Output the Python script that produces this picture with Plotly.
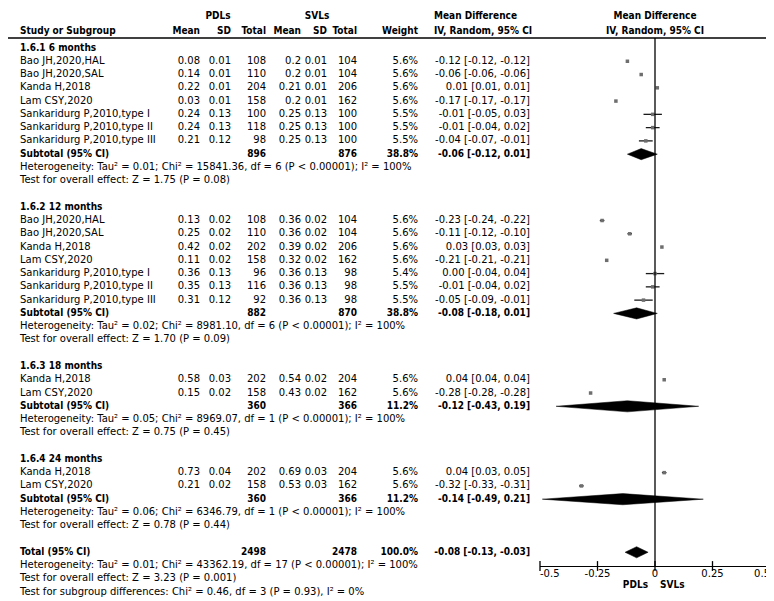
import plotly.graph_objects as go

FONT = "DejaVu Sans"
BFONT = "DejaVu Sans Condensed"

# ---------------- data ----------------
group_titles = ["1.6.1 6 months", "1.6.2 12 months", "1.6.3 18 months", "1.6.4 24 months"]
group_sizes = [7, 7, 2, 2]

study = [
    "Bao JH,2020,HAL", "Bao JH,2020,SAL", "Kanda H,2018", "Lam CSY,2020",
    "Sankaridurg P,2010,type I", "Sankaridurg P,2010,type II", "Sankaridurg P,2010,type III",
    "Bao JH,2020,HAL", "Bao JH,2020,SAL", "Kanda H,2018", "Lam CSY,2020",
    "Sankaridurg P,2010,type I", "Sankaridurg P,2010,type II", "Sankaridurg P,2010,type III",
    "Kanda H,2018", "Lam CSY,2020",
    "Kanda H,2018", "Lam CSY,2020",
]
pdl_mean = [0.08, 0.14, 0.22, 0.03, 0.24, 0.24, 0.21,
            0.13, 0.25, 0.42, 0.11, 0.36, 0.35, 0.31,
            0.58, 0.15,
            0.73, 0.21]
pdl_sd = [0.01, 0.01, 0.01, 0.01, 0.13, 0.13, 0.12,
          0.02, 0.02, 0.02, 0.02, 0.13, 0.13, 0.12,
          0.03, 0.02,
          0.04, 0.02]
pdl_n = [108, 110, 204, 158, 100, 118, 98,
         108, 110, 202, 158, 96, 116, 92,
         202, 158,
         202, 158]
svl_mean = [0.2, 0.2, 0.21, 0.2, 0.25, 0.25, 0.25,
            0.36, 0.36, 0.39, 0.32, 0.36, 0.36, 0.36,
            0.54, 0.43,
            0.69, 0.53]
svl_sd = [0.01, 0.01, 0.01, 0.01, 0.13, 0.13, 0.13,
          0.02, 0.02, 0.02, 0.02, 0.13, 0.13, 0.13,
          0.02, 0.02,
          0.03, 0.03]
svl_n = [104, 104, 206, 162, 100, 100, 100,
         104, 104, 206, 162, 98, 98, 98,
         204, 162,
         204, 162]
weight = [5.6, 5.6, 5.6, 5.6, 5.5, 5.5, 5.5,
          5.6, 5.6, 5.6, 5.6, 5.4, 5.5, 5.5,
          5.6, 5.6,
          5.6, 5.6]
md = [-0.12, -0.06, 0.01, -0.17, -0.01, -0.01, -0.04,
      -0.23, -0.11, 0.03, -0.21, 0.00, -0.01, -0.05,
      0.04, -0.28,
      0.04, -0.32]
ci_lo = [-0.12, -0.06, 0.01, -0.17, -0.05, -0.04, -0.07,
         -0.24, -0.12, 0.03, -0.21, -0.04, -0.04, -0.09,
         0.04, -0.28,
         0.03, -0.33]
ci_hi = [-0.12, -0.06, 0.01, -0.17, 0.03, 0.02, -0.01,
         -0.22, -0.10, 0.03, -0.21, 0.04, 0.02, -0.01,
         0.04, -0.28,
         0.05, -0.31]

sub_pdl_n = [896, 882, 360, 360]
sub_svl_n = [876, 870, 366, 366]
sub_weight = [38.8, 38.8, 11.2, 11.2]
sub_md = [-0.06, -0.08, -0.12, -0.14]
sub_lo = [-0.12, -0.18, -0.43, -0.49]
sub_hi = [0.01, 0.01, 0.19, 0.21]
sub_het = [
    "Heterogeneity: Tau² = 0.01; Chi² = 15841.36, df = 6 (P < 0.00001); I² = 100%",
    "Heterogeneity: Tau² = 0.02; Chi² = 8981.10, df = 6 (P < 0.00001); I² = 100%",
    "Heterogeneity: Tau² = 0.05; Chi² = 8969.07, df = 1 (P < 0.00001); I² = 100%",
    "Heterogeneity: Tau² = 0.06; Chi² = 6346.79, df = 1 (P < 0.00001); I² = 100%",
]
sub_test = [
    "Test for overall effect: Z = 1.75 (P = 0.08)",
    "Test for overall effect: Z = 1.70 (P = 0.09)",
    "Test for overall effect: Z = 0.75 (P = 0.45)",
    "Test for overall effect: Z = 0.78 (P = 0.44)",
]

total_pdl_n = 2498
total_svl_n = 2478
total_weight = 100.0
total_md, total_lo, total_hi = -0.08, -0.13, -0.03
total_het = "Heterogeneity: Tau² = 0.01; Chi² = 43362.19, df = 17 (P < 0.00001); I² = 100%"
total_test = "Test for overall effect: Z = 3.23 (P = 0.001)"
subgroup_test = "Test for subgroup differences: Chi² = 0.46, df = 3 (P = 0.93), I² = 0%"

tick_vals = [-0.5, -0.25, 0, 0.25, 0.5]
tick_text = ["-0.5", "-0.25", "0", "0.25", "0.5"]
favours = ["PDLs", "SVLs"]

# ---------------- layout constants ----------------
W, H = 774, 601
ROW0_PX, ROW_PX = 40.0, 13.27


def row_of(px):
    return (px - ROW0_PX) / ROW_PX


COL = dict(name=12, pm=192, ps=223, pn=258, sm=293, ss=319, sn=349, w=410, ci=522)
PDL_HDR_X, SVL_HDR_X = 210, 309
MD_HDR_LEFT = 426
AXIS_PX = 558
Y_H1, Y_H2 = row_of(8), row_of(23)
LINE_ROW = row_of(30)
AXIS_ROW = row_of(AXIS_PX)

entries = []


def put(x, y, t, pos, bold=False, ax="x2"):
    entries.append((ax, pos, bold, x, y, t))


def ci_text(m, lo, hi):
    return f"{m:.2f} [{lo:.2f}, {hi:.2f}]"


# headers
put(COL["name"], Y_H2, "Study or Subgroup", "middle right", True)
put(PDL_HDR_X, Y_H1, "PDLs", "middle center", True)
put(SVL_HDR_X, Y_H1, "SVLs", "middle center", True)
for key, lab in [("pm", "Mean"), ("ps", "SD"), ("pn", "Total"),
                 ("sm", "Mean"), ("ss", "SD"), ("sn", "Total"), ("w", "Weight")]:
    put(COL[key], Y_H2, lab, "middle left", True)
put(MD_HDR_LEFT, Y_H1, "Mean Difference", "middle right", True)
put(MD_HDR_LEFT, Y_H2, "IV, Random, 95% CI", "middle right", True)
put(0, Y_H1, "Mean Difference", "middle center", True, ax="x")
put(0, Y_H2, "IV, Random, 95% CI", "middle center", True, ax="x")

# body
r = 0
k = 0
study_rows = []
sub_rows = []
for g, n in enumerate(group_sizes):
    put(COL["name"], r, group_titles[g], "middle right", True)
    r += 1
    for _ in range(n):
        put(COL["name"], r, study[k], "middle right")
        put(COL["pm"], r, f"{pdl_mean[k]:g}", "middle left")
        put(COL["ps"], r, f"{pdl_sd[k]:g}", "middle left")
        put(COL["pn"], r, str(pdl_n[k]), "middle left")
        put(COL["sm"], r, f"{svl_mean[k]:g}", "middle left")
        put(COL["ss"], r, f"{svl_sd[k]:g}", "middle left")
        put(COL["sn"], r, str(svl_n[k]), "middle left")
        put(COL["w"], r, f"{weight[k]:.1f}%", "middle left")
        put(COL["ci"], r, ci_text(md[k], ci_lo[k], ci_hi[k]), "middle left")
        study_rows.append(r)
        r += 1
        k += 1
    put(COL["name"], r, "Subtotal (95% CI)", "middle right", True)
    put(COL["pn"], r, str(sub_pdl_n[g]), "middle left", True)
    put(COL["sn"], r, str(sub_svl_n[g]), "middle left", True)
    put(COL["w"], r, f"{sub_weight[g]:.1f}%", "middle left", True)
    put(COL["ci"], r, ci_text(sub_md[g], sub_lo[g], sub_hi[g]), "middle left", True)
    sub_rows.append(r)
    put(COL["name"], r + 1, sub_het[g], "middle right")
    put(COL["name"], r + 2, sub_test[g], "middle right")
    r += 4

total_row = r
put(COL["name"], r, "Total (95% CI)", "middle right", True)
put(COL["pn"], r, str(total_pdl_n), "middle left", True)
put(COL["sn"], r, str(total_svl_n), "middle left", True)
put(COL["w"], r, f"{total_weight:.1f}%", "middle left", True)
put(COL["ci"], r, ci_text(total_md, total_lo, total_hi), "middle left", True)
put(COL["name"], r + 1, total_het, "middle right")
put(COL["name"], r + 2, total_test, "middle right")
put(COL["name"], r + 3, subgroup_test, "middle right")

# favours labels
FAV_ROW = row_of(577)
put(640, FAV_ROW, favours[0], "middle left", True)
put(652, FAV_ROW, favours[1], "middle right", True)

fig = go.Figure()

# ---------------- forest marks ----------------
DH = 0.42
for m, lo, hi, rr in list(zip(sub_md, sub_lo, sub_hi, sub_rows)) + [(total_md, total_lo, total_hi, total_row)]:
    fig.add_trace(go.Scatter(
        x=[lo, m, hi, m, lo], y=[rr, rr - DH, rr, rr + DH, rr],
        mode="lines", fill="toself", fillcolor="black",
        line=dict(color="black", width=0.5), hoverinfo="skip",
        xaxis="x", yaxis="y", showlegend=False))

fig.add_trace(go.Scatter(
    x=md, y=study_rows, mode="markers",
    marker=dict(symbol="square", size=3.5, color="#6e6e6e"),
    error_x=dict(type="data", symmetric=False,
                 array=[h - m for h, m in zip(ci_hi, md)],
                 arrayminus=[m - l for m, l in zip(md, ci_lo)],
                 width=0, thickness=1.3, color="#1a1a1a"),
    xaxis="x", yaxis="y", showlegend=False, hoverinfo="skip"))

fig.add_trace(go.Scatter(
    x=tick_vals, y=[AXIS_ROW] * len(tick_vals), mode="markers",
    marker=dict(symbol="line-ns", size=7, line=dict(width=1.3, color="black")),
    xaxis="x", yaxis="y", showlegend=False, hoverinfo="skip", cliponaxis=False))

TICK_ROW = row_of(566.5)
fig.add_trace(go.Scatter(
    x=tick_vals, y=[TICK_ROW] * len(tick_vals), mode="text", text=tick_text,
    textposition=["middle right", "middle center", "middle center", "middle center", "middle left"],
    textfont=dict(family=FONT, size=10, color="black"),
    xaxis="x", yaxis="y", showlegend=False, hoverinfo="skip", cliponaxis=False))

# ---------------- text columns ----------------
groups = {}
for ax, pos, bold, x, y, t in entries:
    groups.setdefault((ax, pos, bold), ([], [], []))
    gx, gy, gt = groups[(ax, pos, bold)]
    gx.append(x)
    gy.append(y)
    gt.append(t)

for (ax, pos, bold), (gx, gy, gt) in groups.items():
    fig.add_trace(go.Scatter(
        x=gx, y=gy, text=gt, mode="text", textposition=pos,
        textfont=dict(family=BFONT if bold else FONT, size=10, color="black",
                      weight="bold" if bold else "normal"),
        xaxis=ax, yaxis="y", showlegend=False, hoverinfo="skip", cliponaxis=False))

# ---------------- lines ----------------
shapes = [
    dict(type="line", xref="x2", yref="y", x0=0, x1=771, y0=LINE_ROW, y1=LINE_ROW,
         line=dict(color="black", width=1.3)),
    dict(type="line", xref="x", yref="y", x0=0, x1=0, y0=LINE_ROW, y1=AXIS_ROW,
         line=dict(color="black", width=1.3)),
    dict(type="line", xref="x2", yref="y", x0=763, x1=772, y0=row_of(568), y1=row_of(568),
         line=dict(color="#b0b0b0", width=1)),
]

fig.update_layout(
    width=W, height=H,
    margin=dict(l=0, r=0, t=0, b=0),
    paper_bgcolor="white", plot_bgcolor="rgba(0,0,0,0)",
    shapes=shapes,
    xaxis=dict(domain=[532 / W, 762 / W], range=[-0.5, 0.5], anchor="free",
               position=1 - AXIS_PX / H, showline=True, linecolor="black", linewidth=1.3,
               ticks="", showticklabels=False, showgrid=False, zeroline=False, fixedrange=True),
    xaxis2=dict(domain=[0, 1], range=[0, W], visible=False, anchor="y", fixedrange=True),
    yaxis=dict(domain=[0, 1], range=[row_of(H), row_of(0)], visible=False, anchor="x2",
               fixedrange=True),
    showlegend=False,
)

fig.write_html("out.html")
